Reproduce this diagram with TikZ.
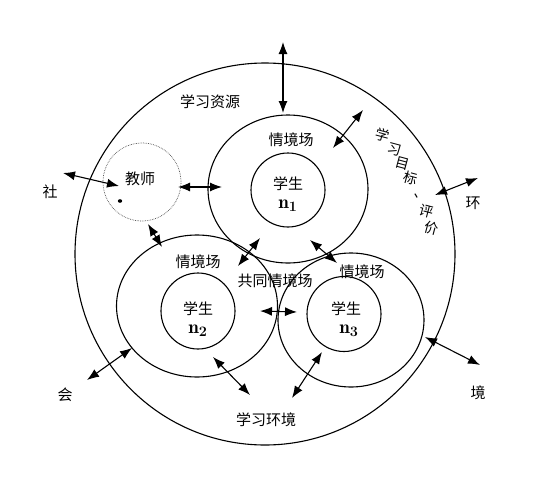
\documentclass[tikz,border=0pt]{standalone}
\usepackage{fontspec}
\newfontfamily\cjk{Noto Sans CJK SC}
\usetikzlibrary{arrows.meta,shapes.geometric}
\tikzset{
  ring/.style={ellipse,draw,line width=1.1pt,inner sep=0pt},
  tring/.style={circle,draw,densely dotted,line width=0.7pt,draw=black!70,inner sep=0pt,minimum size=78pt},
  lbl/.style={font=\cjk\fontsize{15}{15}\selectfont,inner sep=0pt},
  slbl/.style={font=\cjk\fontsize{14}{14}\selectfont,inner sep=0pt,rotate=-15},
  nlbl/.style={font=\fontsize{19}{19}\selectfont\boldmath,inner sep=0pt},
  dbl/.style={{Latex[length=12pt,width=9pt]}-{Latex[length=12pt,width=9pt]},line width=1.1pt}
}
\begin{document}
\begin{tikzpicture}[x=1pt,y=-1pt]
\useasboundingbox (0,0) rectangle (550,496);
% circles
\node[ring,minimum width=380pt,minimum height=382pt] (outer) at (265,254) {};
\node[ring,minimum width=160pt,minimum height=148pt] (c1) at (288,189) {};
\node[ring,minimum width=161pt,minimum height=142pt] (c2) at (197,306) {};
\node[ring,minimum width=146pt,minimum height=134pt] (c3) at (351,320) {};
\node[ring,minimum width=74pt,minimum height=74pt] (s1) at (288,190) {};
\node[ring,minimum width=74pt,minimum height=76pt] (s2) at (198,311) {};
\node[ring,minimum width=74pt,minimum height=75pt] (s3) at (344,314) {};
\node[tring] (teacher) at (142,182) {};
\fill (120,201) ellipse (2.2pt and 1.8pt);
% labels
\node[lbl] (res) at (210,102) {学习资源};
\node[lbl] (f1) at (291,140) {情境场};
\node[lbl] (f2) at (198,262) {情境场};
\node[lbl] (f3) at (362,272) {情境场};
\node[lbl] (fc) at (275,281) {共同情境场};
\node[lbl] (t) at (140,179) {教师};
\node[lbl] (st1) at (288,184) {学生};
\node[nlbl] (n1) at (288,206) {$\mathrm{n}_1$};
\node[lbl] (st2) at (198,309) {学生};
\node[nlbl] (n2) at (198,331) {$\mathrm{n}_2$};
\node[lbl] (st3) at (346,309) {学生};
\node[nlbl] (n3) at (349,331) {$\mathrm{n}_3$};
\node[lbl] (env) at (266,420) {学习环境};
\node[lbl] (she) at (50,192) {社};
\node[lbl] (hui) at (65,395) {会};
\node[lbl] (huan) at (473,203) {环};
\node[lbl] (jing) at (478,393) {境};
\node[slbl] (g1) at (383,135) {学};
\node[slbl] (g2) at (395,150) {习};
\node[slbl] (g3) at (403,164) {目};
\node[slbl] (g4) at (411,178) {标};
\node[slbl] (g5) at (421,197) {、};
\node[slbl] (g6) at (427,211) {评};
\node[slbl] (g7) at (432,228) {价};
% arrow end points
\coordinate (a1) at (283,42);   \coordinate (b1) at (283,113);
\coordinate (a2) at (63,173);   \coordinate (b2) at (119,186);
\coordinate (a3) at (178,187);  \coordinate (b3) at (222,187);
\coordinate (a4) at (148,224);  \coordinate (b4) at (162,247);
\coordinate (a5) at (260,238);  \coordinate (b5) at (238,266);
\coordinate (a6) at (310,240);  \coordinate (b6) at (337,263);
\coordinate (a7) at (260,311);  \coordinate (b7) at (297,312);
\coordinate (a8) at (363,110);  \coordinate (b8) at (333,148);
\coordinate (a9) at (435,195);  \coordinate (b9) at (478,178);
\coordinate (a10) at (87,380);  \coordinate (b10) at (132,348);
\coordinate (a11) at (213,357); \coordinate (b11) at (250,395);
\coordinate (a12) at (322,352); \coordinate (b12) at (292,398);
\coordinate (a13) at (425,337); \coordinate (b13) at (480,365);
\foreach \i in {1,...,13} {\draw[dbl] (a\i) -- (b\i);}
\end{tikzpicture}
\end{document}
